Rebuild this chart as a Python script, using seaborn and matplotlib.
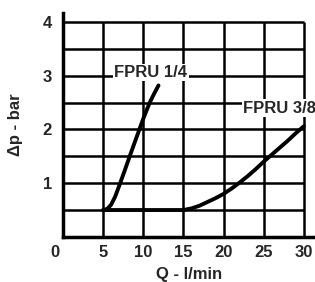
import matplotlib
matplotlib.use("Agg")
from matplotlib import pyplot as plt
from matplotlib import transforms
import seaborn as sns
import pandas as pd

# curve readings from the picture (Q in l/min, dp in bar)
q_14 = [5.0, 5.5, 6.0, 6.5, 7.0, 7.7, 8.5, 9.2, 10.0, 10.8, 11.4, 11.9]
dp_14 = [0.5, 0.52, 0.6, 0.75, 0.95, 1.24, 1.58, 1.87, 2.2, 2.5, 2.68, 2.82]
q_38 = [5.0, 10.0, 15.0, 16.0, 17.0, 18.0, 19.0, 20.0, 21.0, 22.0, 23.0, 24.0, 25.0,
        26.0, 27.0, 28.0, 29.0, 30.0]
dp_38 = [0.5, 0.5, 0.5, 0.53, 0.58, 0.65, 0.72, 0.8, 0.9, 1.01, 1.13, 1.26, 1.4,
         1.53, 1.66, 1.79, 1.93, 2.06]

x_ticks = [0, 5, 10, 15, 20, 25, 30]
y_ticks = [1, 2, 3, 4]
x_grid = [5, 10, 15, 20, 25, 30]
y_grid = [0.5, 1, 1.5, 2, 2.5, 3, 3.5, 4]

df = pd.DataFrame({
    "Q": q_14 + q_38,
    "dp": dp_14 + dp_38,
    "size": ["FPRU 1/4"] * len(q_14) + ["FPRU 3/8"] * len(q_38),
})

sns.set_style("white")
plt.rcParams['font.family'] = ['Liberation Sans', 'DejaVu Sans']
plt.rcParams['font.weight'] = 'bold'

fig = plt.figure(figsize=(3.15, 2.82), dpi=100)
ax = fig.add_axes([0.2, 0.16, 0.8, 0.794])

# grid limited to the chart area
ax.hlines(y_grid, 0, 30, color='black', lw=1.8, zorder=1)
ax.vlines(x_grid, 0, 4, color='black', lw=1.8, zorder=1)

sns.lineplot(data=df, x="Q", y="dp", hue="size", palette=['black', 'black'],
             lw=2.8, legend=False, ax=ax, zorder=3, sort=False, estimator=None)

ax.text(6.4, 3.06, "FPRU 1/4", fontsize=12, fontweight='bold', va='center', ha='left',
        bbox=dict(facecolor='white', edgecolor='none', pad=0.8), zorder=2)
ax.text(22.4, 2.4, "FPRU 3/8", fontsize=12, fontweight='bold', va='center', ha='left',
        bbox=dict(facecolor='white', edgecolor='none', pad=0.8), zorder=2, clip_on=False)

ax.set_xlim(0, 31.4)
ax.set_ylim(0, 4.17)
ax.set_xticks(x_ticks)
ax.set_xticklabels([str(t) for t in x_ticks])
ax.set_yticks(y_ticks)
ax.set_yticklabels([str(t) for t in y_ticks])
ax.tick_params(length=0, labelsize=12, pad=6)
ax.tick_params(axis='y', pad=8)
for lab in ax.get_xticklabels() + ax.get_yticklabels():
    lab.set_fontweight('bold')
# the "0" sits a little left of the axis in the original
zero = ax.get_xticklabels()[0]
zero.set_transform(zero.get_transform() +
                   transforms.ScaledTranslation(-0.08, 0, fig.dpi_scale_trans))

ax.set_xlabel("Q - l/min", fontsize=12, fontweight='bold', labelpad=5)
ax.set_ylabel("Δp - bar", fontsize=12, fontweight='bold', labelpad=14)

for side in ['top', 'right']:
    ax.spines[side].set_visible(False)
ax.spines['left'].set_linewidth(2.5)
ax.spines['bottom'].set_linewidth(2.5)
ax.spines['left'].set_color('black')
ax.spines['bottom'].set_color('black')

plt.savefig("out.png", dpi=100)
